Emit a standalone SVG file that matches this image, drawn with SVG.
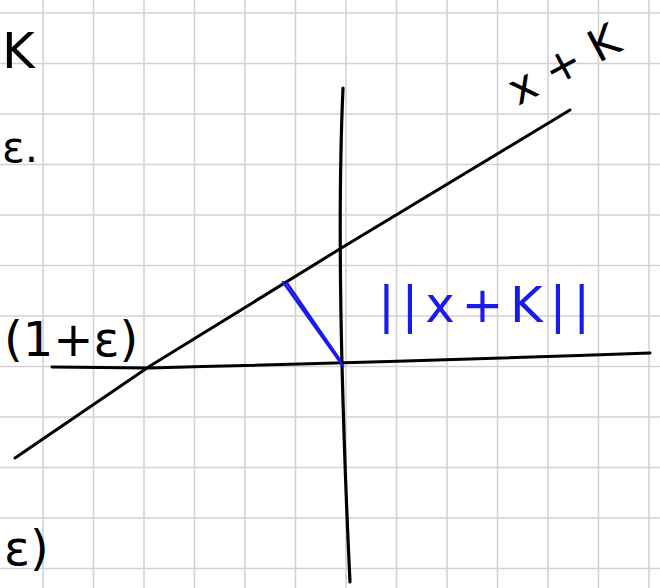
<svg xmlns="http://www.w3.org/2000/svg" width="660" height="588" viewBox="0 0 660 588">
<style>
.grid line{stroke:#d2d2d6;stroke-width:1.6}
.ink{fill:none;stroke:#000;stroke-width:3;stroke-linecap:round;stroke-linejoin:round}
.blue{fill:none;stroke:#1a1aee;stroke-width:2.6;stroke-linecap:round}
.t{font-family:"DejaVu Sans",sans-serif;fill:#000}
.tb{font-family:"DejaVu Sans",sans-serif;fill:#1a1aee}
</style>
<rect width="660" height="588" fill="#fff"/>
<g class="grid" id="grid">
<line x1="43" y1="0" x2="43" y2="588"/><line x1="93.5" y1="0" x2="93.5" y2="588"/><line x1="144" y1="0" x2="144" y2="588"/><line x1="194.5" y1="0" x2="194.5" y2="588"/><line x1="245" y1="0" x2="245" y2="588"/><line x1="295.5" y1="0" x2="295.5" y2="588"/><line x1="346" y1="0" x2="346" y2="588"/><line x1="396.5" y1="0" x2="396.5" y2="588"/><line x1="447" y1="0" x2="447" y2="588"/><line x1="497.5" y1="0" x2="497.5" y2="588"/><line x1="548" y1="0" x2="548" y2="588"/><line x1="598.5" y1="0" x2="598.5" y2="588"/><line x1="649" y1="0" x2="649" y2="588"/>
<line x1="0" y1="13" x2="660" y2="13"/><line x1="0" y1="63.5" x2="660" y2="63.5"/><line x1="0" y1="114" x2="660" y2="114"/><line x1="0" y1="164.5" x2="660" y2="164.5"/><line x1="0" y1="215" x2="660" y2="215"/><line x1="0" y1="265.5" x2="660" y2="265.5"/><line x1="0" y1="316" x2="660" y2="316"/><line x1="0" y1="366.5" x2="660" y2="366.5"/><line x1="0" y1="417" x2="660" y2="417"/><line x1="0" y1="467.5" x2="660" y2="467.5"/><line x1="0" y1="518" x2="660" y2="518"/><line x1="0" y1="568.5" x2="660" y2="568.5"/>
</g>
<g id="connectors">
<path class="ink" d="M343,88 Q338,200 342,365 Q345,480 350,582" style="stroke-width:3.2"/>
<path class="ink" d="M52,367 L150,368 Q400,362 650,353"/>
<path class="ink" d="M15,458 L150,366 L343,247 L570,110"/>
<path class="blue" d="M283,282 L343,366"/>
<path class="blue" d="M287,283 L340,360"/>
</g>
<g id="labels">
<text class="t" x="2" y="68" font-size="50">K</text>
<text class="t" x="2" y="162" font-size="42">ε.</text>
<text class="t" x="4" y="356" font-size="48">(1+ε)</text>
<text class="t" x="4" y="565" font-size="48">ε)</text>
<text class="t" x="0" y="0" font-size="44" transform="translate(518,106) rotate(-28)">x + K</text>
<text class="tb" x="378" y="322" font-size="50" textLength="212" lengthAdjust="spacing">||x+K||</text>
</g>
</svg>
